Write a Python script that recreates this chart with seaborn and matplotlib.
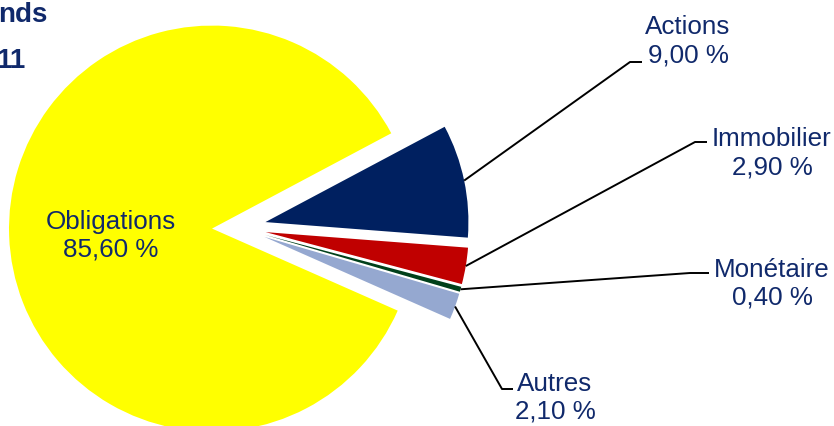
import matplotlib
matplotlib.use('Agg')
import matplotlib.pyplot as plt
import seaborn as sns
import numpy as np

# ---- data ----
categories = ['Actions', 'Immobilier', 'Monétaire', 'Autres', 'Obligations']
shares = [9.00, 2.90, 0.40, 2.10, 85.60]
value_labels = ['9,00 %', '2,90 %', '0,40 %', '2,10 %', '85,60 %']
colors = ['#002060', '#C00000', '#00401A', '#95A8D0', '#FFFF00']
title_fragments = ['nds', '11']

sns.set_theme(style='white')
plt.rcParams['font.family'] = ['Liberation Sans', 'DejaVu Sans']

W, H = 834, 426
fig = plt.figure(figsize=(8.34, 4.26), dpi=100)
ax = fig.add_axes([0, 0, 1, 1])

R = 203
center = (239, H - 227.6)
wedges, _ = ax.pie(shares, colors=colors, startangle=28, counterclock=False,
                   radius=R, center=center, explode=[27] * len(shares),
                   wedgeprops=dict(linewidth=0))
ax.set_xlim(0, W)
ax.set_ylim(0, H)
ax.set_aspect('auto')
ax.axis('off')

text_color = '#10296B'
fs = 18.7

# label layout in pixel coords (x from left, y from top): elbow, end,
# text anchor (centre x, baseline of the last line)
layout = {
    'Actions':    ((630, 62), (642, 62), (688, 62)),
    'Immobilier': ((695, 142), (707, 142), (772, 174)),
    'Monétaire':  ((690, 273), (709, 273), (772, 305)),
    'Autres':     ((502, 389), (513, 389), (555, 419)),
}
obl_anchor = (111, 257)

for w, cat, val in zip(wedges, categories, value_labels):
    if cat in layout:
        elbow, end, anchor = layout[cat]
        mid = np.deg2rad((w.theta1 + w.theta2) / 2)
        cx, cy = w.center
        sx, sy = cx + w.r * np.cos(mid), cy + w.r * np.sin(mid)
        ax.plot([sx, elbow[0], end[0]], [sy, H - elbow[1], H - end[1]],
                color='black', lw=1.4, solid_capstyle='butt')
        ax.text(anchor[0], H - anchor[1], f'{cat}\n{val}', ha='center',
                va='baseline', multialignment='center', fontsize=fs,
                color=text_color)
    else:
        ax.text(obl_anchor[0], H - obl_anchor[1], f'{cat}\n{val}', ha='center',
                va='baseline', multialignment='center', fontsize=fs,
                color=text_color)

ax.text(48, H - 22, title_fragments[0], ha='right', va='baseline',
        fontsize=20, fontweight='bold', color=text_color)
ax.text(26, H - 68, title_fragments[1], ha='right', va='baseline',
        fontsize=20, fontweight='bold', color=text_color)

fig.savefig('out.png', dpi=100)
